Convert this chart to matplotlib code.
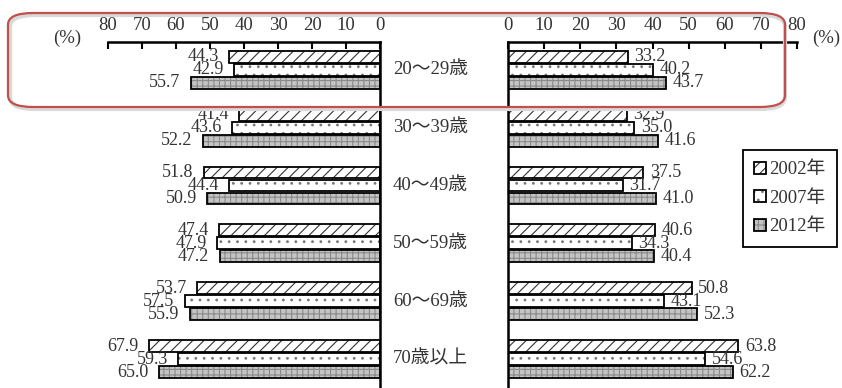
import matplotlib
matplotlib.use("Agg")
import matplotlib.pyplot as plt
import matplotlib.transforms as mtransforms
from matplotlib.patches import Patch, FancyBboxPatch

# Age groups and values (%) for the three survey years
categories = ["20～29歳", "30～39歳", "40～49歳", "50～59歳", "60～69歳", "70歳以上"]
years = ["2002年", "2007年", "2012年"]

left_2002 = [44.3, 41.4, 51.8, 47.4, 53.7, 67.9]
left_2007 = [42.9, 43.6, 44.4, 47.9, 57.5, 59.3]
left_2012 = [55.7, 52.2, 50.9, 47.2, 55.9, 65.0]

right_2002 = [33.2, 32.9, 37.5, 40.6, 50.8, 63.8]
right_2007 = [40.2, 35.0, 31.7, 34.3, 43.1, 54.6]
right_2012 = [43.7, 41.6, 41.0, 40.4, 52.3, 62.2]

x_ticks = [0, 10, 20, 30, 40, 50, 60, 70, 80]

SERIF = ["Liberation Serif", "Noto Sans CJK JP"]
plt.rcParams["font.family"] = SERIF
plt.rcParams["hatch.linewidth"] = 0.8
FS = 13.5
TXT = "#333333"

# (facecolor, hatch, hatch colour) per year
styles = [
    ("white", "///", "#333333"),
    ("white", "..", "#777777"),
    ("#c4c4c4", "+++", "#8a8a8a"),
]

W, H = 842, 388
fig = plt.figure(figsize=(W / 100, H / 100), dpi=100)

ax_l = fig.add_axes([108 / W, 0, (380 - 108) / W, 1 - 42 / H])
ax_r = fig.add_axes([508 / W, 0, (797 - 508) / W, 1 - 42 / H])

bar_h = 0.205
offsets = [-0.225, 0, 0.225]
ypos = list(range(len(categories)))


def draw_bars(ax, series, side):
    for k, vals in enumerate(series):
        face, hatch, hcol = styles[k]
        ys = [y + offsets[k] for y in ypos]
        ax.barh(ys, vals, height=bar_h, color=face, edgecolor=hcol,
                hatch=hatch, linewidth=0, zorder=2)
        ax.barh(ys, vals, height=bar_h, fill=False, edgecolor="black",
                linewidth=1.3, zorder=3)
        for y, v in zip(ys, vals):
            if side == "left":
                ax.text(v + 3, y, f"{v:.1f}", ha="right", va="center",
                        fontsize=13, color=TXT, zorder=4)
            else:
                ax.text(v + 1.8, y, f"{v:.1f}", ha="left", va="center",
                        fontsize=13, color=TXT, zorder=4)


draw_bars(ax_l, [left_2002, left_2007, left_2012], "left")
draw_bars(ax_r, [right_2002, right_2007, right_2012], "right")

for ax in (ax_l, ax_r):
    ax.set_ylim(5.5, -0.48)
    ax.set_yticks([])
    ax.set_xticks(x_ticks)
    ax.xaxis.tick_top()
    ax.tick_params(axis="x", direction="in", length=5, width=1.5,
                   pad=6, labelsize=FS, labelcolor=TXT)
    ax.spines["bottom"].set_visible(False)
    ax.spines["top"].set_linewidth(1.8)
    ax.patch.set_alpha(0)

ax_l.set_xlim(80, 0)
ax_l.spines["left"].set_visible(False)
ax_l.spines["right"].set_linewidth(1.8)
ax_r.set_xlim(0, 80)
ax_r.spines["right"].set_visible(False)
ax_r.spines["left"].set_linewidth(1.8)

# Age labels between the two panels
trans = mtransforms.blended_transform_factory(fig.transFigure, ax_l.transData)
for y, c in zip(ypos, categories):
    fig.text(393 / W, y, c, transform=trans, ha="left", va="center",
             fontsize=FS, color=TXT)

fig.text(67 / W, 1 - 38 / H, "(%)", ha="center", va="center",
         fontsize=FS, color=TXT)
fig.text(826 / W, 1 - 38 / H, "(%)", ha="center", va="center",
         fontsize=FS, color=TXT)

# Legend
handles = []
for face, hatch, hcol in styles:
    handles.append((Patch(facecolor=face, edgecolor=hcol, hatch=hatch, linewidth=0),
                    Patch(fill=False, edgecolor="black", linewidth=1.3)))
leg = fig.legend(handles, years, loc="upper left",
                 bbox_to_anchor=(743 / W, 1 - 150 / H), borderaxespad=0,
                 handlelength=0.6, handleheight=0.6, handletextpad=0.2,
                 labelspacing=0.62, borderpad=0.6, fontsize=FS,
                 fancybox=False, edgecolor="black", framealpha=1)
leg.get_frame().set_linewidth(1.3)
for t in leg.get_texts():
    t.set_color(TXT)

# Red highlight box around the 20-29 group
shadow = FancyBboxPatch((10 / W, 1 - 109 / H), (785 - 10) / W, (109 - 15) / H,
                        boxstyle="round,pad=0,rounding_size=0.03",
                        transform=fig.transFigure, fill=False,
                        edgecolor="#d9d9d9", linewidth=3, zorder=9)
box = FancyBboxPatch((8 / W, 1 - 107 / H), (785 - 8) / W, (107 - 13) / H,
                     boxstyle="round,pad=0,rounding_size=0.03",
                     transform=fig.transFigure, fill=False,
                     edgecolor="#c0504d", linewidth=1.6, zorder=10)
fig.patches.extend([shadow, box])

fig.savefig("out.png", dpi=100)
